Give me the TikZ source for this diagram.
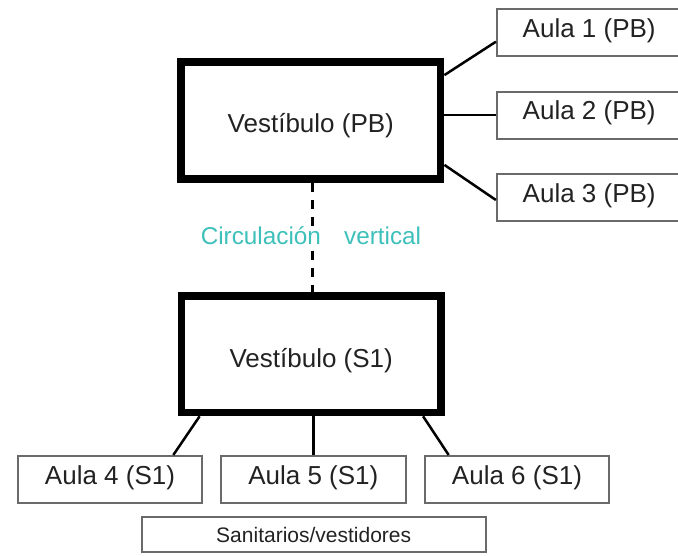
\documentclass[tikz,border=0pt]{standalone}
\usepackage{fontspec}
\setmainfont{Liberation Sans}
\usetikzlibrary{calc}
\definecolor{txt}{HTML}{222222}
\definecolor{boxgray}{HTML}{6A6A6A}
\definecolor{teal1}{HTML}{3EC0BA}
\begin{document}
\begin{tikzpicture}[x=1pt,y=-1pt,
  bigbox/.style={draw=black, line width=7.7pt, minimum width=259.5pt, minimum height=116.5pt,
    inner sep=0pt, font=\fontsize{26}{30}\selectfont, text=txt, text height=24pt, text depth=0pt},
  aulabox/.style={draw=boxgray, line width=2pt, minimum width=184.6pt, minimum height=47pt,
    inner sep=0pt, font=\fontsize{26}{30}\selectfont, text=txt, text height=9pt, text depth=0pt},
  sanbox/.style={draw=boxgray, line width=2pt, minimum width=344pt, minimum height=35pt,
    inner sep=0pt, font=\fontsize{21}{25}\selectfont, text=txt, text height=15pt, text depth=0pt},
  conn/.style={draw=black, line width=2.5pt},
  vconn/.style={draw=black, line width=3pt, dash pattern=on 9pt off 8pt},
  lbl/.style={font=\fontsize{24.3}{28}\selectfont, text=teal1, fill=white, inner sep=0pt, anchor=base}
]
\useasboundingbox (0,0) rectangle (678,555);
\clip (0,0) rectangle (678,555);
\node[bigbox, text height=23pt] (pb) at (310.8,120.5) {Vestíbulo (PB)};
\node[bigbox, text height=25.6pt] (s1) at (311.2,354.2) {Vestíbulo (S1)};
\node[aulabox] (a1) at (589.2,32.8) {Aula 1 (PB)};
\node[aulabox] (a2) at (589.2,115) {Aula 2 (PB)};
\node[aulabox] (a3) at (589.2,197.5) {Aula 3 (PB)};
\node[aulabox] (a4) at (110,479.5) {Aula 4 (S1)};
\node[aulabox] (a5) at (313.35,479.5) {Aula 5 (S1)};
\node[aulabox] (a6) at (517,479.5) {Aula 6 (S1)};
\node[sanbox] (san) at (313.7,534.5) {Sanitarios/vestidores};
% connectors top
\draw[conn] ($(pb.north east)+(0,16.7)$) -- ($(a1.west)+(0,8.9)$);
\draw[conn] (pb.east |- a2.west) -- (a2.west);
\draw[conn] ($(pb.south east)+(0,-17.7)$) -- ($(a3.west)+(0,2.5)$);
% connectors bottom
\draw[conn] ($(s1.south west)+(22,0)$) -- ($(a4.north)+(63.3,0)$);
\draw[conn] (s1.south -| a5.north) -- (a5.north);
\draw[conn] ($(s1.south east)+(-21.7,0)$) -- ($(a6.north)+(-68.3,0)$);
% vertical circulation
\draw[vconn] ($(pb.south)+(1.5,0)$) -- ($(s1.north)+(1.1,0)$);
\node[lbl] (circ) at (311,244) {Circulación\hspace{16.5pt} vertical};
\end{tikzpicture}
\end{document}
